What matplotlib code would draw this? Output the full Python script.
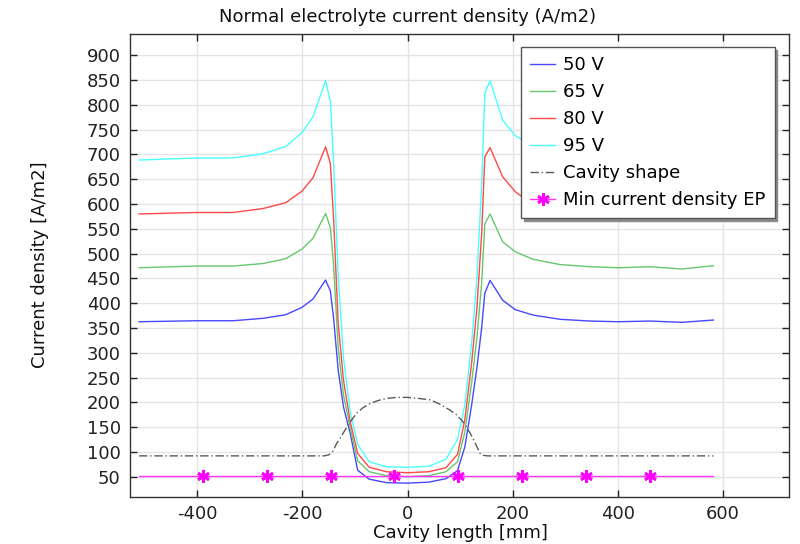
import matplotlib
matplotlib.use("Agg")
import matplotlib.pyplot as plt

plt.rcParams["axes.unicode_minus"] = False

# Axial positions along the cavity [mm]
x_pos = [-511, -401, -332, -275, -232, -201, -180, -156, -147, -141, -132, -122,
         -109, -95, -73, -40, 0, 40, 73, 95, 109, 122, 132, 141, 147, 157, 181,
         205, 239, 290, 347, 401, 461, 522, 582]

# Normal electrolyte current density [A/m2] for each applied voltage
j_50v = [362.6, 364.6, 364.6, 369.5, 376.7, 391.6, 408.4, 446.7, 425, 372, 265, 191,
         137, 63, 45, 38, 37, 39, 46, 62, 110, 195, 270, 350, 420, 446, 406,
         387, 376, 367.5, 364, 362.6, 364, 361.4, 366]
j_65v = [471.5, 475, 475, 480, 489.7, 509, 530.8, 581, 553, 480, 310, 215,
         148, 82, 60, 52, 50, 52, 60, 80, 140, 240, 330, 440, 560, 580, 524,
         503.8, 488.5, 478, 473.6, 471.5, 473.6, 469, 475.6]
j_80v = [580, 583, 583, 591, 602.6, 626, 653, 715.6, 682, 575, 360, 245,
         160, 97, 69, 60, 58, 60, 68, 95, 165, 280, 390, 540, 695, 714, 655,
         625, 598, 588, 584, 582, 583, 579, 585]
j_95v = [688.8, 693, 693, 701.5, 716, 744, 776, 849, 808, 690, 455, 290,
         180, 115, 80, 70, 69, 71, 85, 125, 195, 320, 450, 640, 823, 849, 769,
         738, 716, 703, 695, 692, 693, 688, 695]

voltage_labels = ["50 V", "65 V", "80 V", "95 V"]
voltage_colors = ["#4848ff", "#66c76e", "#ff4848", "#48ffff"]

# Cavity wall profile (scaled for display)
cav_x = [-511, -159, -150, -142, -135, -127, -119, -108, -97, -85, -71, -55, -40,
         -20, 0, 20, 43, 62, 81, 92, 103, 111, 119, 127, 133, 138, 145, 152, 582]
cav_y = [92, 92, 94, 102, 117, 130, 144, 162, 178, 189, 198, 204, 208,
         210, 210, 208, 205, 196, 184, 176, 164, 152, 138, 122, 108, 97, 93, 92, 92]

# Minimum current density required for electropolishing
ep_x = [-511, -389.5, -268, -146.5, -25, 96.5, 218, 339.5, 461, 582]
ep_y = [52, 52, 52, 52, 52, 52, 52, 52, 52, 52]

x_ticks = [-400, -200, 0, 200, 400, 600]
y_ticks = list(range(50, 901, 50))

fig = plt.figure(figsize=(8, 5.44), dpi=100)
ax = fig.add_axes([0.163, 0.087, 0.8236, 0.851])

for yv, lab, col in zip([j_50v, j_65v, j_80v, j_95v], voltage_labels, voltage_colors):
    ax.plot(x_pos, yv, color=col, lw=1.0, label=lab)

ax.plot(cav_x, cav_y, color="#5a5a5a", lw=1.0, dashes=(6, 2, 1, 2),
        label="Cavity shape")
ax.plot(ep_x, ep_y, color="#ff33ff", lw=1.0, marker=(6, 2, 0), markersize=9,
        markeredgewidth=2.0, markeredgecolor="#ff00ff", markevery=slice(1, 9),
        label="Min current density EP")

ax.set_xlim(-527.5, 726.5)
ax.set_ylim(9.7, 943.6)
ax.set_xticks(x_ticks)
ax.set_yticks(y_ticks)
ax.tick_params(direction="in", top=True, right=True, length=5, width=1,
               labelsize=13, colors="#222222", pad=6)
ax.tick_params(axis="y", pad=7)
ax.grid(True, color="#e4e4e4", lw=1.0)
ax.set_axisbelow(True)
for sp in ax.spines.values():
    sp.set_color("#333333")
    sp.set_linewidth(1.0)

leg = ax.legend(loc="upper left", bbox_to_anchor=(0.5926, 0.971),
                fontsize=13, frameon=True, fancybox=False,
                shadow={"color": "#8a8a8a", "alpha": 1.0},
                handlelength=1.4, handletextpad=0.45, labelspacing=0.5,
                borderpad=0.5, borderaxespad=0.0)
leg.get_frame().set_edgecolor("#555555")
leg.get_frame().set_linewidth(1.0)
leg.get_frame().set_alpha(1.0)

fig.text(0.51, 0.969, "Normal electrolyte current density (A/m2)",
         ha="center", va="center", fontsize=13, color="#111111")
fig.text(0.575, 0.02, "Cavity length [mm]", ha="center", va="center",
         fontsize=13, color="#111111")
fig.text(0.05, 0.513, "Current density [A/m2]", ha="center", va="center",
         rotation=90, fontsize=13, color="#111111")

fig.savefig("out.png", dpi=100)
